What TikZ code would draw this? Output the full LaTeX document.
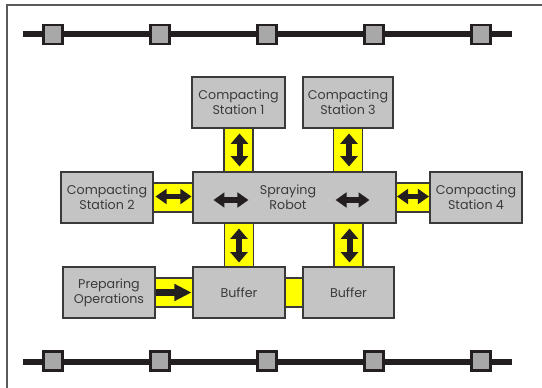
\documentclass[tikz,border=0pt]{standalone}
\usepackage{fontspec}
\setmainfont{Poppins}
\usetikzlibrary{arrows.meta,calc}
\definecolor{railblack}{HTML}{231F20}
\definecolor{boxgray}{HTML}{C4C4C4}
\definecolor{stopgray}{HTML}{A8A8A8}
\definecolor{inkgray}{HTML}{3A3A3A}
\definecolor{framegray}{HTML}{5A5A5A}
\definecolor{bandyellow}{HTML}{FFFF00}

\begin{document}
\begin{tikzpicture}[x=0.75pt,y=-0.75pt,
  railline/.style={draw=railblack,line width=4.5pt},
  stop/.style={draw=railblack,fill=stopgray,line width=1.8pt,minimum size=14pt,inner sep=0pt},
  unit/.style={draw=inkgray,fill=boxgray,line width=0.8pt,minimum height=38.25pt,
    inner sep=0pt,align=center,text=inkgray,font=\fontsize{9.5}{11}\selectfont},
  label/.style={align=center,text=inkgray,inner sep=0pt,font=\fontsize{9.5}{11}\selectfont},
  band/.style={draw=inkgray,fill=bandyellow,line width=0.8pt},
  twoway/.style={draw=railblack,line width=3.9pt,
    {Triangle[length=8.25pt,width=11pt]}-{Triangle[length=8.25pt,width=11pt]}},
  upway/.style={draw=railblack,line width=4.5pt,
    {Triangle[length=7.75pt,width=12.75pt]}-{Triangle[length=7.75pt,width=12.75pt]}},
  oneway/.style={draw=railblack,line width=5pt,-{Triangle[length=12.75pt,width=12pt]}}
]
\useasboundingbox (0,0) rectangle (542,388);

% frame
\draw[framegray,line width=1.2pt] (7,388) -- (7,5) -- (542,5);

% upper rail with stops
\coordinate (tl) at (23,34.5);
\coordinate (tr) at (512,34.5);
\foreach \i/\x in {1/53,2/160,3/267,4/374,5/481}
  \coordinate (tp\i) at (\x,34.5);
\draw[railline] (tl) -- (tr);
\foreach \i in {1,...,5}
  \node[stop] (ts\i) at (tp\i) {};

% lower rail with stops
\coordinate (bl) at (23,361.5);
\coordinate (br) at (512,361.5);
\foreach \i/\x in {1/53,2/160,3/267,4/374,5/481}
  \coordinate (bp\i) at (\x,361);
\draw[railline] (bl) -- (br);
\foreach \i in {1,...,5}
  \node[stop] (bs\i) at (bp\i) {};

% units
\node[unit,minimum width=69.75pt] (cs1) at (238.5,102.5) {Compacting\\Station 1};
\node[unit,minimum width=67.5pt]  (cs3) at (348,102.5) {Compacting\\Station 3};
\node[unit,minimum width=69pt]    (cs2) at (107,197.5) {Compacting\\Station 2};
\node[unit,minimum width=152.25pt] (robot) at (294.5,197.5) {};
\node[label] (robotlabel) at (288,197) {Spraying\\Robot};
\node[unit,minimum width=69pt]    (cs4) at (476,197.5) {Compacting\\Station 4};
\node[unit,minimum width=69pt]    (prep) at (109,292.5) {Preparing\\Operations};
\node[unit,minimum width=69pt]    (buf1) at (239,292.5) {Buffer};
\node[unit,minimum width=68.25pt] (buf2) at (348.5,292.5) {Buffer};

% yellow transfer bands
\draw[band] ($(cs1.south)+(-14.5,0)$) rectangle ($(cs1.south|-robot.north)+(14.5,0)$);
\draw[band] ($(cs3.south)+(-14.5,0)$) rectangle ($(cs3.south|-robot.north)+(14.5,0)$);
\draw[band] ($(cs2.east)+(0,-14.5)$) rectangle ($(robot.west)+(0,14.5)$);
\draw[band] ($(robot.east)+(0,-14.5)$) rectangle ($(cs4.west)+(0,14.5)$);
\draw[band] ($(buf1.north|-robot.south)+(-14.5,0)$) rectangle ($(buf1.north)+(14.5,0)$);
\draw[band] ($(buf2.north|-robot.south)+(-14.5,0)$) rectangle ($(buf2.north)+(14.5,0)$);
\draw[band] ($(prep.east)+(0,-14.5)$) rectangle ($(buf1.west)+(0,14.5)$);
\draw[band] ($(buf1.east)+(0,-14.5)$) rectangle ($(buf2.west)+(0,14.5)$);

% transfer arrows
\draw[upway] ($(cs1.south)+(1,5)$) -- ($(cs1.south|-robot.north)+(1,-5)$);
\draw[upway] ($(cs3.south)+(1,5)$) -- ($(cs3.south|-robot.north)+(1,-5)$);
\draw[twoway] ($(cs2.east)+(2,-1)$) -- ($(robot.west)+(-1,-1)$);
\draw[twoway] ($(robot.east)+(0.5,-1)$) -- ($(cs4.west)+(-0.5,-1)$);
\draw[upway] ($(buf1.north|-robot.south)+(0,5)$) -- ($(buf1.north)+(0,-4)$);
\draw[upway] ($(buf2.north|-robot.south)+(1,5)$) -- ($(buf2.north)+(1,-4)$);
\draw[oneway] (prep.east) -- ($(buf1.west)+(-1,0)$);

% robot travel arrows
\coordinate (rl1) at ($(robot.west)+(21,2.5)$);
\coordinate (rl2) at ($(robot.west)+(56,2.5)$);
\coordinate (rr1) at ($(robot.east)+(-61,2.5)$);
\coordinate (rr2) at ($(robot.east)+(-27,2.5)$);
\draw[twoway] (rl1) -- (rl2);
\draw[twoway] (rr1) -- (rr2);
\end{tikzpicture}
\end{document}
